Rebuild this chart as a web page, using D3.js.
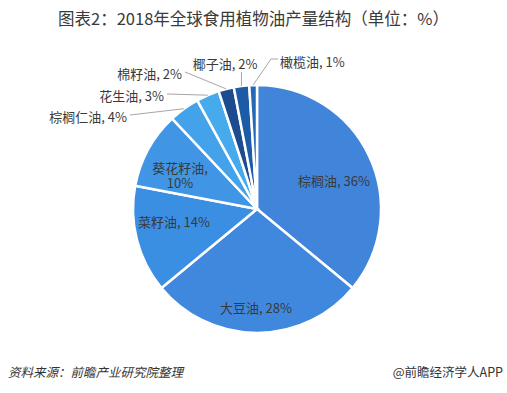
<!DOCTYPE html>
<html>
<head>
  <meta charset="utf-8">
  <style type="text/css">
    body { margin: 0; background: #fff; }
    text { font-family: "Microsoft YaHei", "Noto Sans CJK SC", sans-serif; }
  </style>
  <script src="https://d3js.org/d3.v7.min.js"></script>
</head>
<body>
  <div id="chart"></div>
  <script type="text/javascript">
    // data, clockwise from 12 o'clock
    var names = ["棕榈油", "大豆油", "菜籽油", "葵花籽油", "棕榈仁油", "花生油", "棉籽油", "椰子油", "橄榄油"];
    var values = [36, 28, 14, 10, 4, 3, 2, 2, 1];
    var colors = ["#4085da", "#3f88de", "#3b8fe3", "#4096e5", "#43a2e9", "#47aaed", "#1c4b8f", "#1e5ba7", "#2667b7"];

    // label layout, relative to pie centre (inside: text centre, outside: text anchor)
    var labelLayout = {
      "棕榈油":   { x: 77,  y: -27, anchor: "middle" },
      "大豆油":   { x: -1,  y: 100, anchor: "middle" },
      "菜籽油":   { x: -83, y: 14,  anchor: "middle" },
      "葵花籽油": { x: -77, y: -36, anchor: "middle", wrap: true },
      "棕榈仁油": { x: -130, y: -91, anchor: "end", out: true },
      "花生油":   { x: -93, y: -112, anchor: "end", out: true },
      "棉籽油":   { x: -75, y: -134, anchor: "end", out: true },
      "椰子油":   { x: -32, y: -144, anchor: "middle", out: true },
      "橄榄油":   { x: 23,  y: -146, anchor: "start", out: true }
    };

    var width = 507, height = 393;
    var cx = 257, cy = 209, radius = 124;

    var svg = d3.select("#chart").append("svg")
      .attr("width", width)
      .attr("height", height);

    svg.append("text")
      .attr("x", width / 2)
      .attr("y", 25)
      .attr("text-anchor", "middle")
      .style("font-size", "16.5px")
      .style("fill", "#3a3a3a")
      .text("图表2：2018年全球食用植物油产量结构（单位：%）");

    var data = names.map(function(n, i) { return { name: n, value: values[i], color: colors[i] }; });

    var pie = d3.pie().sort(null).value(function(d) { return d.value; });
    var arc = d3.arc().innerRadius(0).outerRadius(radius);
    var arcs = pie(data);

    var g = svg.append("g").attr("transform", "translate(" + cx + "," + cy + ")");

    g.selectAll("path.slice")
      .data(arcs)
      .enter().append("path")
        .attr("class", "slice")
        .attr("d", arc)
        .style("fill", function(d) { return d.data.color; })
        .style("stroke", "#fff")
        .style("stroke-width", 2.5);

    // leader lines for small slices
    function edgePoint(d) {
      var a = (d.startAngle + d.endAngle) / 2;
      return [Math.sin(a) * radius, -Math.cos(a) * radius];
    }

    arcs.forEach(function(d) {
      var L = labelLayout[d.data.name];
      if (!L.out) return;
      var p = edgePoint(d), pts;
      if (L.anchor === "end") {
        pts = [[L.x + 3, L.y - 3], p];
      } else if (L.anchor === "middle") {
        pts = [[p[0], L.y + 7], p];
      } else {
        pts = [[L.x - 2, L.y - 4], [L.x - 9, L.y - 4], p];
      }
      g.append("polyline")
        .attr("points", pts.map(function(q) { return q.join(","); }).join(" "))
        .style("fill", "none")
        .style("stroke", "#a6a6a6")
        .style("stroke-width", 1);
    });

    arcs.forEach(function(d) {
      var L = labelLayout[d.data.name];
      var style = function(t) {
        return t.attr("text-anchor", L.anchor)
          .style("font-size", "13px")
          .style("fill", "#3a3a3a");
      };
      if (L.wrap) {
        style(g.append("text")).attr("x", L.x).attr("y", L.y).text(d.data.name + ",");
        style(g.append("text")).attr("x", L.x).attr("y", L.y + 15).text(d.data.value + "%");
      } else {
        style(g.append("text")).attr("x", L.x).attr("y", L.y + 4)
          .text(d.data.name + ", " + d.data.value + "%");
      }
    });

    svg.append("text")
      .attr("x", 8)
      .attr("y", 377)
      .style("font-size", "12.5px")
      .style("font-style", "italic")
      .style("fill", "#333")
      .text("资料来源：前瞻产业研究院整理");

    svg.append("text")
      .attr("x", 503)
      .attr("y", 377)
      .attr("text-anchor", "end")
      .style("font-size", "12.5px")
      .style("fill", "#333")
      .text("@前瞻经济学人APP");
  </script>
</body>
</html>
